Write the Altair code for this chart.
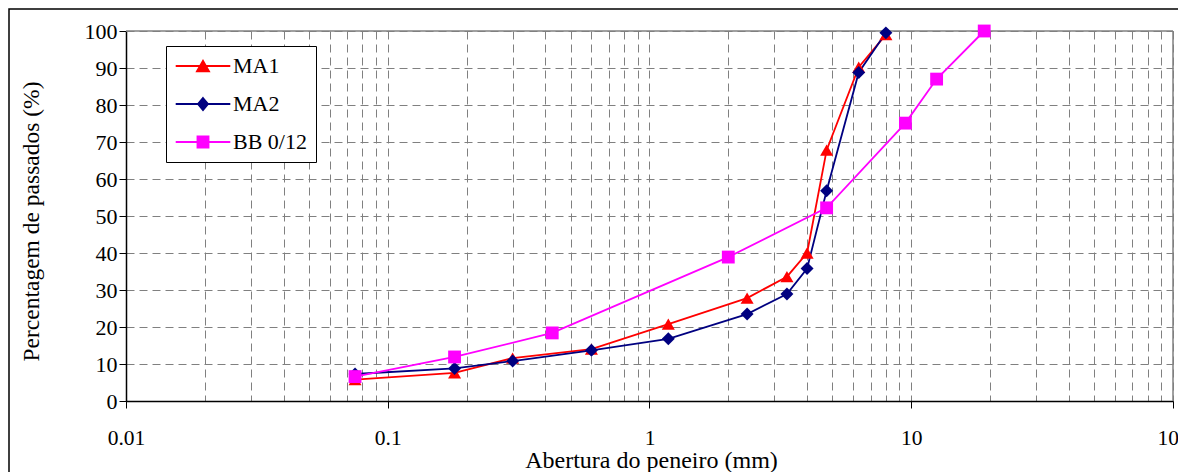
import altair as alt
import pandas as pd

# ---------------- data ----------------
series_names = ["MA1", "MA2", "BB 0/12"]
series_colors = ["#FF0000", "#000080", "#FF00FF"]
series_shapes = ["triangle-up", "diamond", "square"]
series_sizes = [170, 165, 121]

ma_aberturas = [0.075, 0.18, 0.3, 0.6, 1.18, 2.36, 3.35, 4.0, 4.75, 6.3, 8.0]
ma1_passados = [5.8, 7.6, 11.6, 14.0, 20.8, 27.8, 33.6, 40.0, 67.8, 90.2, 99.0]
ma2_passados = [7.3, 8.8, 10.8, 13.7, 16.8, 23.5, 28.9, 35.8, 56.8, 88.8, 99.5]
bb_aberturas = [0.075, 0.18, 0.425, 2.0, 4.75, 9.5, 12.5, 19.0]
bb_passados = [6.6, 11.9, 18.4, 38.9, 52.2, 75.1, 87.0, 100.0]

x_labels = [0.01, 0.1, 1, 10, 100]
x_grid = [0.01, 0.02, 0.03, 0.04, 0.05, 0.06, 0.07, 0.08, 0.09,
          0.1, 0.2, 0.3, 0.4, 0.5, 0.6, 0.7, 0.8, 0.9,
          1, 2, 3, 4, 5, 6, 7, 8, 9,
          10, 20, 30, 40, 50, 60, 70, 80, 90, 100]
y_ticks = [0, 10, 20, 30, 40, 50, 60, 70, 80, 90, 100]

rows = []
for name, xs, ys in [("MA1", ma_aberturas, ma1_passados),
                     ("MA2", ma_aberturas, ma2_passados),
                     ("BB 0/12", bb_aberturas, bb_passados)]:
    for i, (xv, yv) in enumerate(zip(xs, ys)):
        rows.append({"serie": name, "abertura": xv, "passados": yv, "ordem": i})
df = pd.DataFrame(rows)

# ---------------- style ----------------
W, H = 1047, 370
FONT = "Liberation Serif"
GRID = "#808080"

# legend symbols: a line segment through the marker
legend_paths = [
    "M-3.9,0H3.9M-0.86,0.75L0,-0.75L0.86,0.75Z",
    "M-3.9,0H3.9M0,-0.86L0.72,0L0,0.86L-0.72,0Z",
    "M-3.9,0H3.9M-0.79,-0.79H0.79V0.79H-0.79Z",
]

decade_test = "indexof([0.01, 0.1, 1, 10, 100], datum.value) >= 0"

x_enc = alt.X(
    "abertura:Q",
    scale=alt.Scale(type="log", domain=[0.01, 100], nice=False),
    axis=alt.Axis(
        values=x_grid,
        format="~g",
        labelExpr=f"{decade_test} ? datum.label : ''",
        labelFlush=False,
        labelOverlap=False,
        labelBaseline="alphabetic",
        labelPadding=36,
        labelFont=FONT,
        labelFontSize=21.5,
        tickSize=7,
        tickColor="black",
        tickOpacity={"condition": {"test": decade_test, "value": 1}, "value": 0},
        grid=True,
        gridColor=GRID,
        gridDash=[8, 5],
        gridWidth=1,
        domainColor="black",
        domainWidth=1.5,
        title="Abertura do peneiro (mm)",
        titleFont=FONT,
        titleFontSize=24,
        titleX=525,
        titleY=66,
        titleAlign="center",
        titleBaseline="alphabetic",
    ),
)

y_enc = alt.Y(
    "passados:Q",
    scale=alt.Scale(domain=[0, 100], nice=False),
    axis=alt.Axis(
        values=y_ticks,
        labelPadding=2,
        labelFont=FONT,
        labelFontSize=22,
        tickSize=7,
        tickColor="black",
        grid=True,
        gridColor=GRID,
        gridDash=[8, 5],
        gridWidth=1,
        domainColor="black",
        domainWidth=1.5,
        title="Percentagem de passados (%)",
        titleFont=FONT,
        titleFontSize=23.5,
        titleAngle=270,
        titleX=-88,
        titleY=190,
        titleAlign="center",
        titleBaseline="alphabetic",
    ),
)

color_scale = alt.Scale(domain=series_names, range=series_colors)

legend = alt.Legend(
    title=None,
    orient="none",
    legendX=40,
    legendY=15,
    padding=9,
    strokeColor="black",
    fillColor="white",
    symbolSize=196,
    symbolOffset=17,
    symbolStrokeWidth=1.8,
    symbolOpacity=1,
    labelOffset=19,
    rowPadding=16,
    labelFont=FONT,
    labelFontSize=22,
    labelColor="black",
)

base = alt.Chart(df)

lines = base.mark_line(strokeWidth=1.8).encode(
    x=x_enc,
    y=y_enc,
    color=alt.Color("serie:N", scale=color_scale, legend=None),
    order="ordem:Q",
)

points = base.mark_point(filled=True, opacity=1).encode(
    x=x_enc,
    y=y_enc,
    color=alt.Color("serie:N", scale=color_scale, legend=None),
    shape=alt.Shape("serie:N", scale=alt.Scale(domain=series_names, range=series_shapes), legend=None),
    size=alt.Size("serie:N", scale=alt.Scale(domain=series_names, range=series_sizes), legend=None),
)

# legend-only layer (draws no marks: every row filtered out)
legend_layer = base.transform_filter("false").mark_point(filled=True, size=196, strokeWidth=1.8).encode(
    x=x_enc,
    y=y_enc,
    color=alt.Color("serie:N", scale=color_scale, legend=legend),
    stroke=alt.Stroke("serie:N", scale=color_scale, legend=legend),
    shape=alt.Shape("serie:N", scale=alt.Scale(domain=series_names, range=legend_paths), legend=legend),
)

one = alt.Data(values=[{"k": 1}])

frame = alt.Chart(one).mark_rect(filled=False, stroke="black", strokeWidth=1.5).encode(
    x=alt.value(-117), x2=alt.value(W + 40), y=alt.value(-22), y2=alt.value(H + 120)
)
top_border = alt.Chart(one).mark_rule(color=GRID, strokeWidth=1.5).encode(
    x=alt.value(0), x2=alt.value(W), y=alt.value(0)
)
right_border = alt.Chart(one).mark_rule(color=GRID, strokeWidth=1.5).encode(
    x=alt.value(W), y=alt.value(0), y2=alt.value(H)
)

chart = alt.layer(frame, top_border, right_border, lines, points, legend_layer).resolve_scale(
    color="independent", shape="independent", stroke="independent", size="independent"
).properties(
    width=W,
    height=H,
    padding={"left": 118, "top": 23, "right": 5, "bottom": 71},
    autosize=alt.AutoSizeParams(type="none"),
    background="white",
).configure_axis(
    labelFont=FONT,
    titleFont=FONT,
    labelColor="black",
    titleColor="black",
    titleFontWeight="normal",
).configure_view(stroke=None)

chart.save("out.html", embed_options={"renderer": "svg", "actions": False})
